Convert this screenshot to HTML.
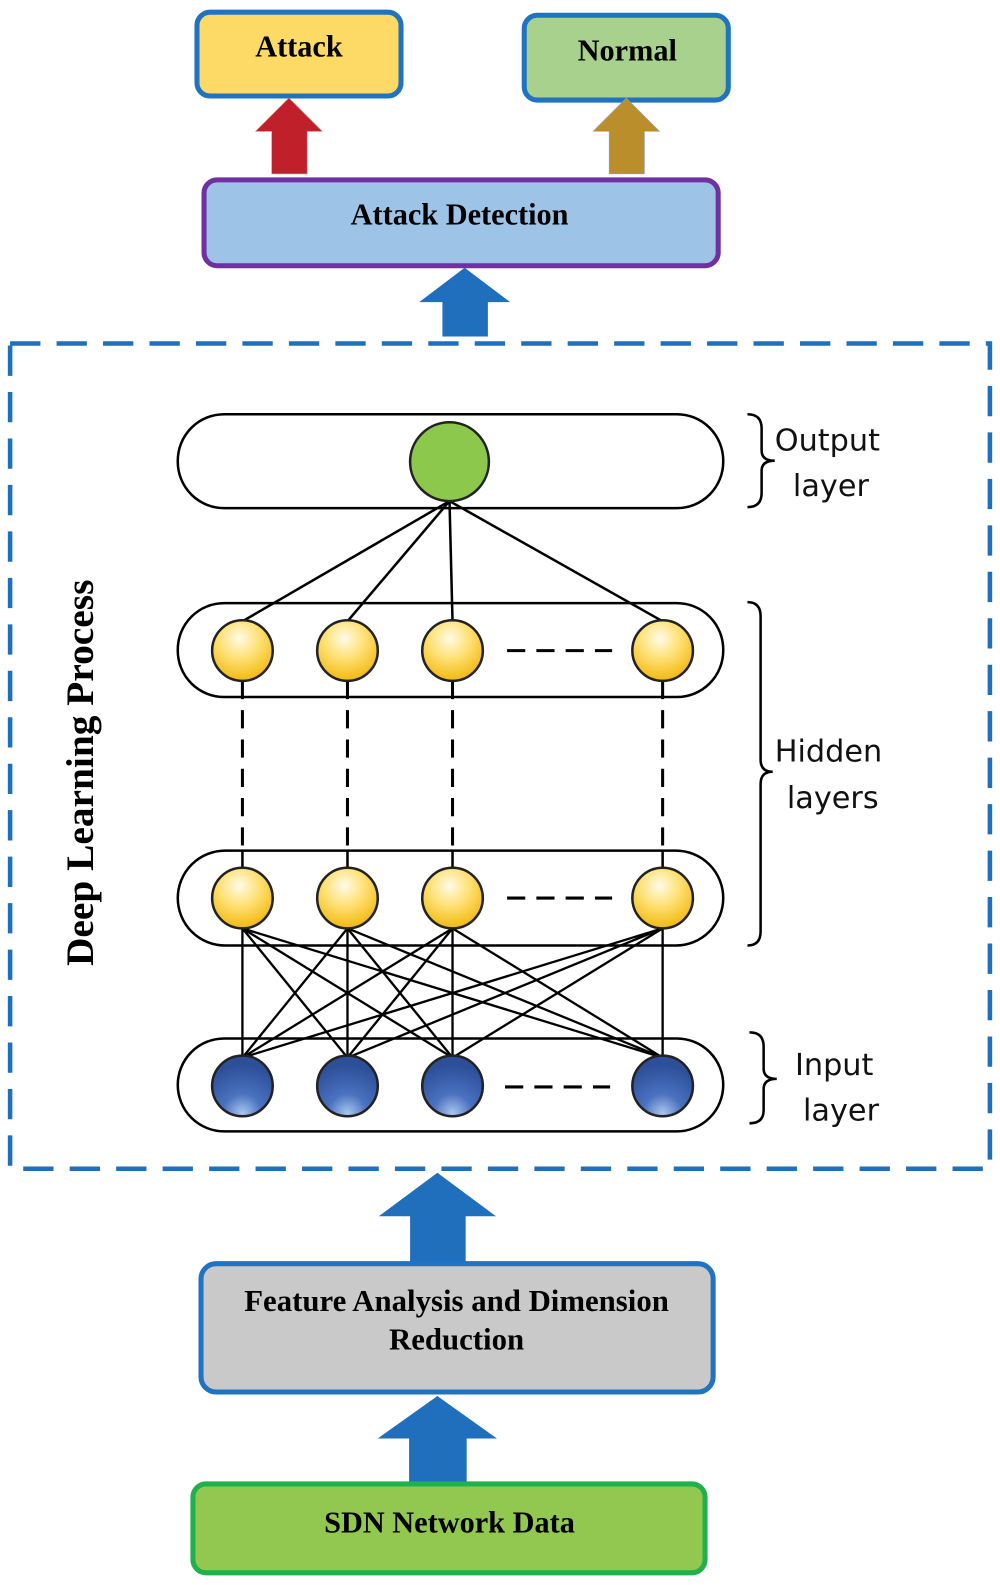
<!DOCTYPE html>
<html><head><meta charset="utf-8"><style>html,body{margin:0;padding:0;background:#fff}svg{display:block}</style></head>
<body>
<svg width="1000" height="1585" viewBox="0 0 990 1569" xmlns="http://www.w3.org/2000/svg">
<defs>
<radialGradient id="yg" cx="0.45" cy="0.3" r="0.7"><stop offset="0" stop-color="#fffbe8"/><stop offset="0.45" stop-color="#ffe27a"/><stop offset="1" stop-color="#f2b90f"/></radialGradient>
<radialGradient id="bg" cx="0.5" cy="0.95" r="0.8"><stop offset="0" stop-color="#a9c4ee"/><stop offset="0.4" stop-color="#4a72bf"/><stop offset="1" stop-color="#2c4f98"/></radialGradient>
</defs>
<rect x="195" y="12" width="202" height="83" rx="13" fill="#fdd966" stroke="#1f73c0" stroke-width="5"/>
<text x="296" y="56" font-family="Liberation Serif" font-weight="bold" font-size="30" text-anchor="middle">Attack</text>
<rect x="519" y="15" width="202" height="84" rx="13" fill="#a9d18e" stroke="#1f73c0" stroke-width="5"/>
<text x="621" y="60" font-family="Liberation Serif" font-weight="bold" font-size="30" text-anchor="middle">Normal</text>
<polygon points="269,172 269,130 253,130 286,97 319,130 304,130 304,172" fill="#c0202a" stroke="#e07070" stroke-width="0.5"/>
<polygon points="603,172 603,130 587,130 620,97 653,130 638,130 638,172" fill="#bb8e2c" stroke="#8aa0d0" stroke-width="0.5"/>
<rect x="202" y="178" width="509" height="85" rx="13" fill="#9dc3e6" stroke="#7030a0" stroke-width="5"/>
<text x="455" y="222" font-family="Liberation Serif" font-weight="bold" font-size="30" text-anchor="middle">Attack Detection</text>
<polygon points="438,333 438,299 415,299 460,265 505,299 483,299 483,333" fill="#1f6fbd"/>
<rect x="10" y="340" width="970" height="817" fill="none" stroke="#1f6fbd" stroke-width="4.5" stroke-dasharray="30,16"/>
<text transform="translate(92,765) rotate(-90)" font-family="Liberation Serif" font-weight="bold" font-size="39" text-anchor="middle">Deep Learning Process</text>
<g fill="none" stroke="#000" stroke-width="2.5">
<rect x="176" y="410" width="540" height="93" rx="46"/>
<rect x="176" y="597" width="540" height="93" rx="46"/>
<rect x="176" y="842" width="540" height="94" rx="47"/>
<rect x="176" y="1028" width="540" height="92" rx="46"/>
</g>
<g stroke="#000" stroke-width="2.5">
<line x1="445" y1="496" x2="240" y2="615"/><line x1="445" y1="496" x2="344" y2="615"/><line x1="445" y1="496" x2="448" y2="615"/><line x1="445" y1="496" x2="656" y2="615"/>
<line x1="240" y1="842" x2="240" y2="860"/><line x1="344" y1="842" x2="344" y2="860"/><line x1="448" y1="842" x2="448" y2="860"/><line x1="656" y1="842" x2="656" y2="860"/>
</g>
<g stroke="#000" stroke-width="3" stroke-dasharray="18,11">
<line x1="240" y1="674" x2="240" y2="842"/><line x1="344" y1="674" x2="344" y2="842"/><line x1="448" y1="674" x2="448" y2="842"/><line x1="656" y1="674" x2="656" y2="842"/>
<line x1="502" y1="644" x2="606" y2="644"/><line x1="502" y1="889" x2="606" y2="889"/><line x1="500" y1="1076" x2="604" y2="1076"/>
</g>
<g stroke="#000" stroke-width="2.3">
<line x1="240" y1="919" x2="240" y2="1047"/><line x1="240" y1="919" x2="344" y2="1047"/><line x1="240" y1="919" x2="448" y2="1047"/><line x1="240" y1="919" x2="656" y2="1047"/>
<line x1="344" y1="919" x2="240" y2="1047"/><line x1="344" y1="919" x2="344" y2="1047"/><line x1="344" y1="919" x2="448" y2="1047"/><line x1="344" y1="919" x2="656" y2="1047"/>
<line x1="448" y1="919" x2="240" y2="1047"/><line x1="448" y1="919" x2="344" y2="1047"/><line x1="448" y1="919" x2="448" y2="1047"/><line x1="448" y1="919" x2="656" y2="1047"/>
<line x1="656" y1="919" x2="240" y2="1047"/><line x1="656" y1="919" x2="344" y2="1047"/><line x1="656" y1="919" x2="448" y2="1047"/><line x1="656" y1="919" x2="656" y2="1047"/>
</g>
<g stroke="#222" stroke-width="2.5">
<circle cx="445" cy="457" r="39" fill="#8cc84b"/>
<circle cx="240" cy="644" r="30" fill="url(#yg)"/><circle cx="344" cy="644" r="30" fill="url(#yg)"/><circle cx="448" cy="644" r="30" fill="url(#yg)"/><circle cx="656" cy="644" r="30" fill="url(#yg)"/>
<circle cx="240" cy="889" r="30" fill="url(#yg)"/><circle cx="344" cy="889" r="30" fill="url(#yg)"/><circle cx="448" cy="889" r="30" fill="url(#yg)"/><circle cx="656" cy="889" r="30" fill="url(#yg)"/>
<circle cx="240" cy="1075" r="30" fill="url(#bg)"/><circle cx="344" cy="1075" r="30" fill="url(#bg)"/><circle cx="448" cy="1075" r="30" fill="url(#bg)"/><circle cx="656" cy="1075" r="30" fill="url(#bg)"/>
</g>
<g fill="none" stroke="#000" stroke-width="2.5">
<path d="M740,410 Q754,410 754,424 L754,446 Q754,456 767,456 Q754,456 754,466 L754,488 Q754,502 740,502"/>
<path d="M740,596 Q753,596 753,610 L753,752 Q753,764 765,764 Q753,764 753,776 L753,922 Q753,936 740,936"/>
<path d="M742,1022 Q756,1022 756,1036 L756,1058 Q756,1068 769,1068 Q756,1068 756,1078 L756,1099 Q756,1112 742,1112"/>
</g>
<g font-family="DejaVu Sans, Liberation Sans, sans-serif" font-size="30" fill="#111">
<text x="767" y="446">Output</text><text x="785" y="491">layer</text>
<text x="767" y="754">Hidden</text><text x="779" y="800">layers</text>
<text x="787" y="1064">Input</text><text x="795" y="1109">layer</text>
</g>
<polygon points="406,1250 406,1204 375,1204 433,1161 491,1204 461,1204 461,1250" fill="#1f6fbd"/>
<rect x="199" y="1251" width="507" height="127" rx="15" fill="#c9c9c9" stroke="#1f73c0" stroke-width="5"/>
<text x="452" y="1298" font-family="Liberation Serif" font-weight="bold" font-size="30.5" text-anchor="middle">Feature Analysis and Dimension</text>
<text x="452" y="1336" font-family="Liberation Serif" font-weight="bold" font-size="30.5" text-anchor="middle">Reduction</text>
<polygon points="405,1468 405,1424 374,1424 433,1382 492,1424 462,1424 462,1468" fill="#1f6fbd"/>
<rect x="191" y="1469" width="507" height="88" rx="13" fill="#92c850" stroke="#20b04c" stroke-width="5"/>
<text x="445" y="1517" font-family="Liberation Serif" font-weight="bold" font-size="30" text-anchor="middle">SDN Network Data</text>
</svg>
</body></html>
